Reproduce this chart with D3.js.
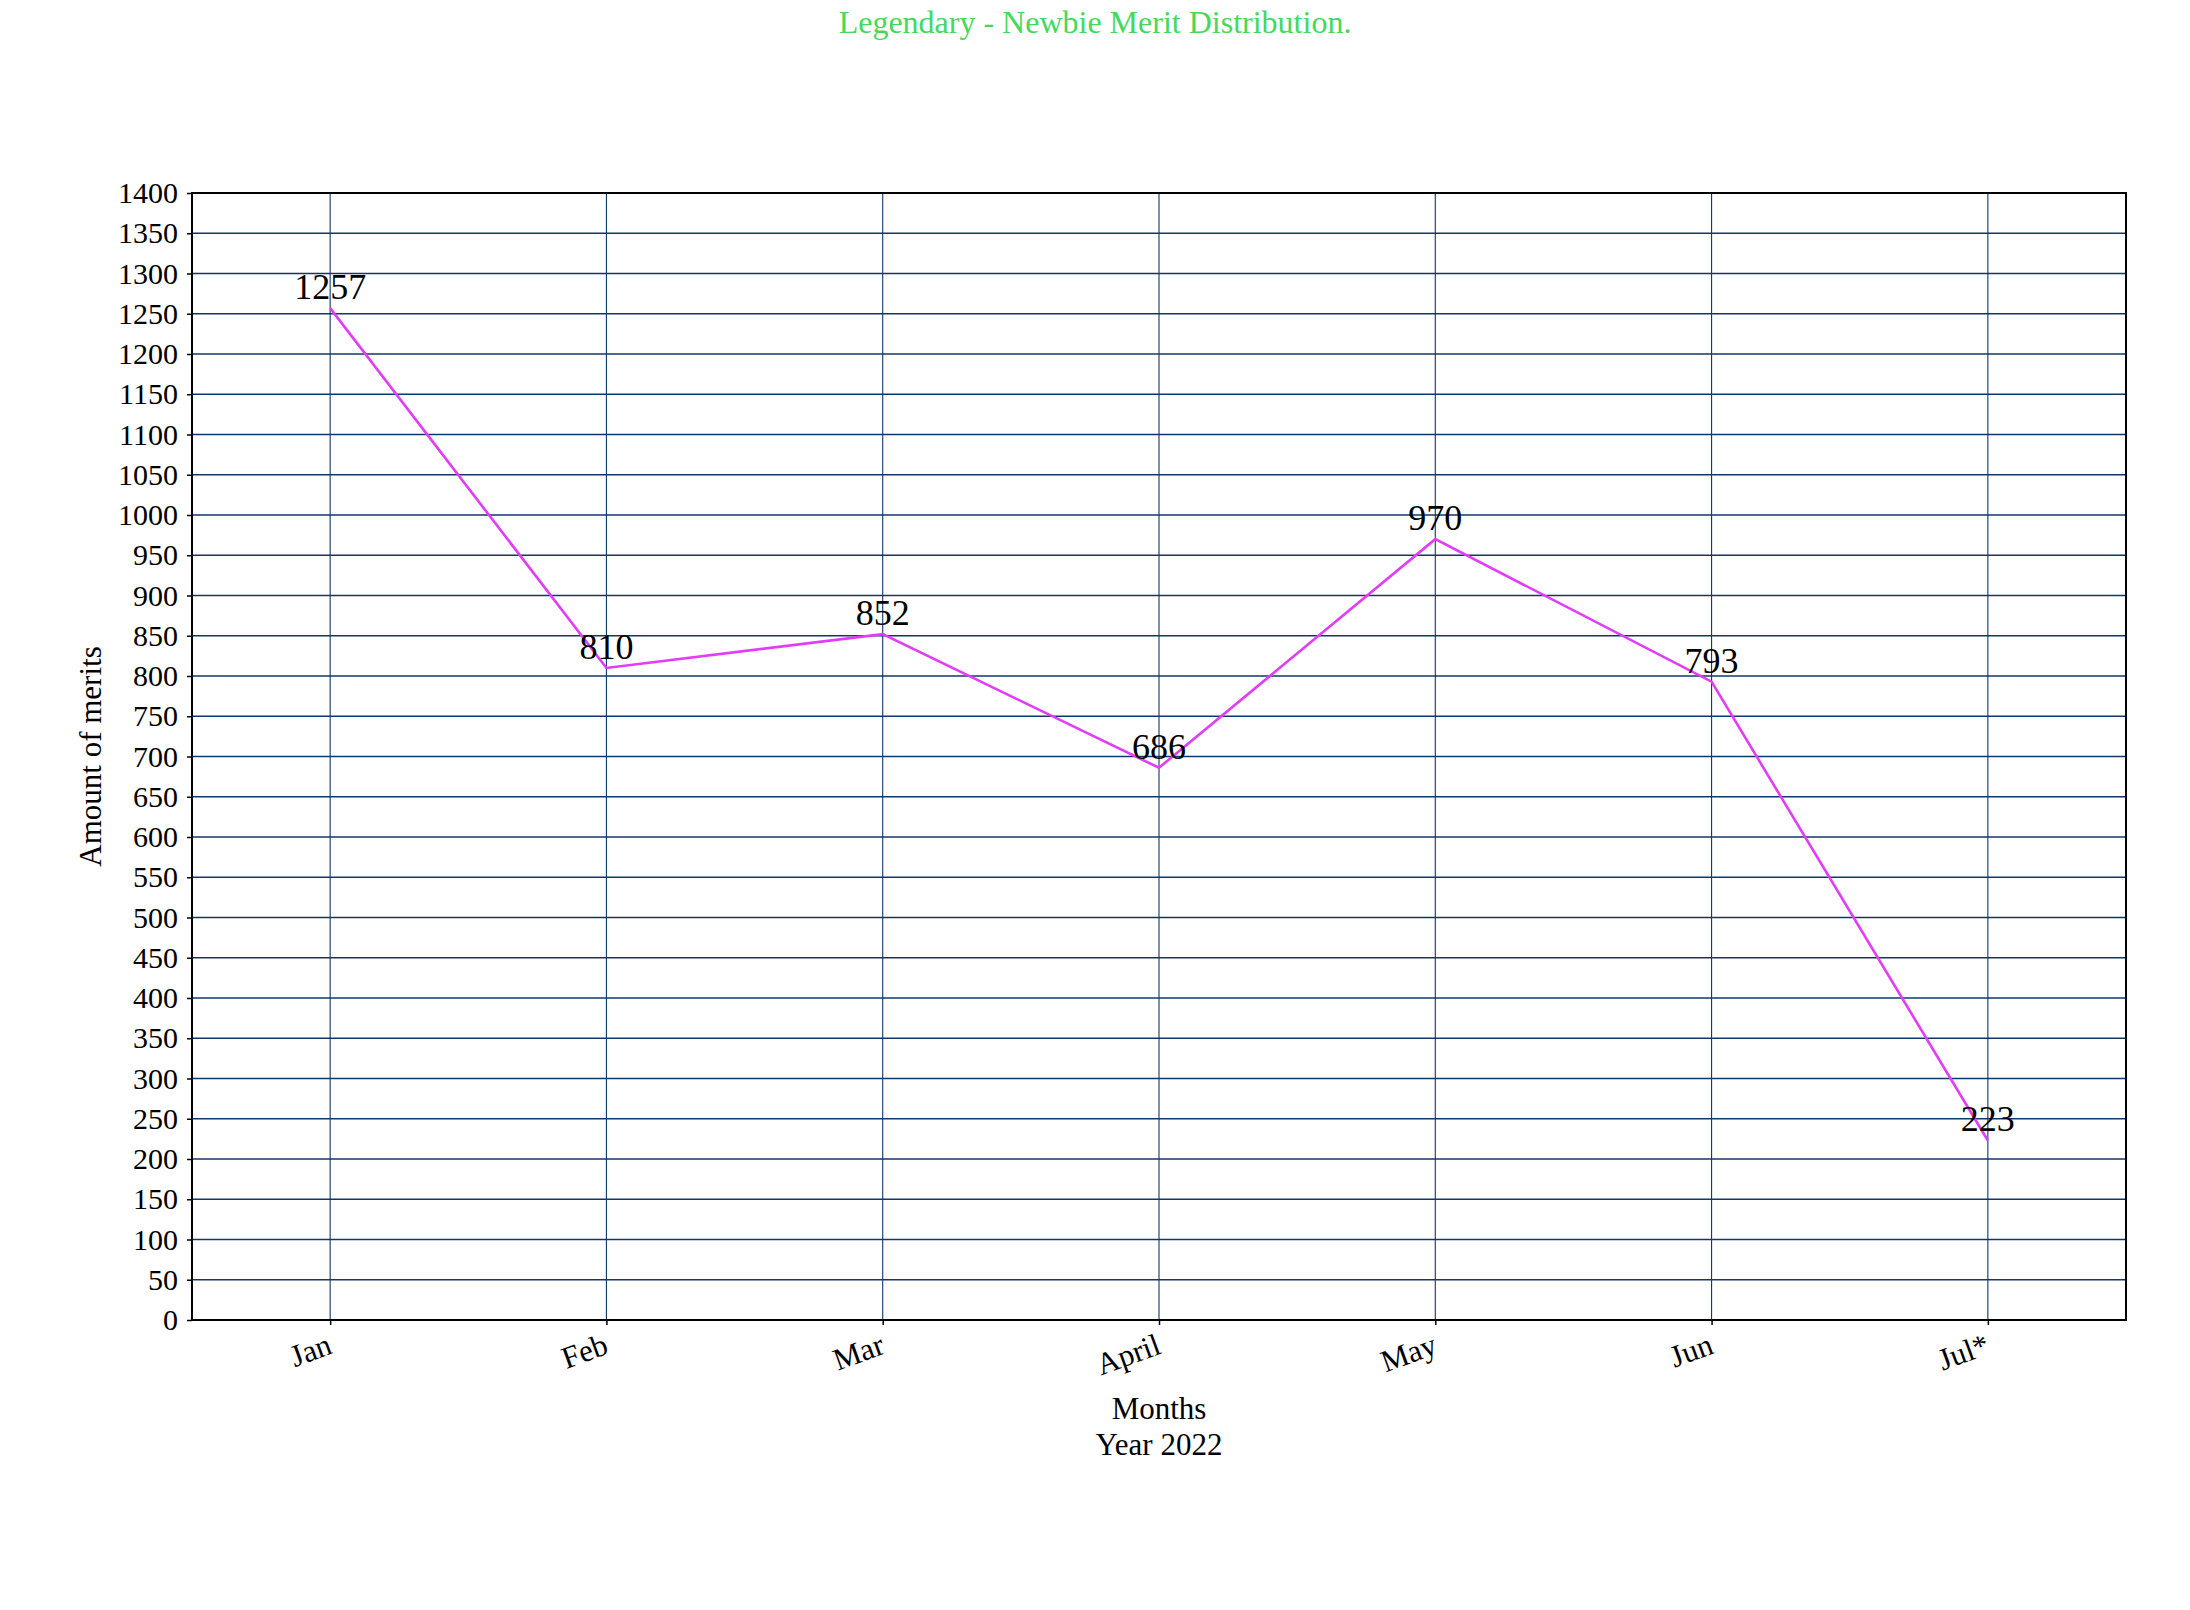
<!DOCTYPE html>
<html>
<head>
<meta charset="utf-8">
<script src="https://cdn.jsdelivr.net/npm/d3@7"></script>
<style>
  html, body { margin: 0; padding: 0; background: #fff; }
  svg { display: block; font-family: "Liberation Serif", "Times New Roman", serif; }
</style>
</head>
<body>
<svg id="chart" width="2190" height="1610"></svg>
<script>
const months = ["Jan", "Feb", "Mar", "April", "May", "Jun", "Jul*"];
const merits = [1257, 810, 852, 686, 970, 793, 223];
const yTicks = d3.range(0, 1401, 50);
const titleText = "Legendary - Newbie Merit Distribution.";
const xTitle = ["Months", "Year 2022"];
const yTitle = "Amount of merits";

const W = 2190, H = 1610;
const L = 192, R = 2126, T = 193, B = 1320;
const svg = d3.select("#chart");
svg.append("rect").attr("width", W).attr("height", H).attr("fill", "#fff");

const x = d3.scalePoint().domain(months).range([L, R]).padding(0.5);
const y = d3.scaleLinear().domain([0, 1400]).range([B, T]);
const gridColor = "#0f3868";

// horizontal grid
svg.append("g").selectAll("line").data(yTicks).join("line")
  .attr("x1", L).attr("x2", R)
  .attr("y1", d => y(d)).attr("y2", d => y(d))
  .attr("stroke", gridColor).attr("stroke-width", 1.6);

// vertical grid
svg.append("g").selectAll("line").data(months).join("line")
  .attr("x1", d => x(d)).attr("x2", d => x(d))
  .attr("y1", T).attr("y2", B)
  .attr("stroke", gridColor).attr("stroke-width", 1.1);

// y axis
const yAxis = svg.append("g").attr("transform", `translate(${L},0)`)
  .call(d3.axisLeft(y).tickValues(yTicks).tickSize(5).tickPadding(9).tickFormat(d3.format("d")));
yAxis.select(".domain").remove();
yAxis.selectAll(".tick line").attr("stroke", "#000").attr("stroke-width", 1.5);
yAxis.selectAll(".tick text").attr("font-size", 30).attr("fill", "#000")
  .attr("font-family", "Liberation Serif, serif");

// x axis
const xAxis = svg.append("g").attr("transform", `translate(0,${B})`)
  .call(d3.axisBottom(x).tickSize(5).tickPadding(0));
xAxis.select(".domain").remove();
xAxis.selectAll(".tick line").attr("stroke", "#000").attr("stroke-width", 1.5);
xAxis.selectAll(".tick text")
  .attr("font-size", 31).attr("fill", "#000")
  .attr("font-family", "Liberation Serif, serif")
  .attr("text-anchor", "end")
  .attr("dy", null)
  .attr("y", 0)
  .attr("transform", "translate(3,33) rotate(-20)");

// frame
svg.append("rect").attr("x", L).attr("y", T).attr("width", R - L).attr("height", B - T)
  .attr("fill", "none").attr("stroke", "#000").attr("stroke-width", 2);

// line
const line = d3.line().x((d, i) => x(months[i])).y(d => y(d));
svg.append("path").datum(merits)
  .attr("d", line).attr("fill", "none")
  .attr("stroke", "#e23cf8").attr("stroke-width", 2.6);

// data labels
svg.append("g").selectAll("text").data(merits).join("text")
  .attr("x", (d, i) => x(months[i]))
  .attr("y", d => y(d) - 9)
  .attr("text-anchor", "middle")
  .attr("font-size", 36).attr("fill", "#000")
  .text(d => d);

// title
svg.append("text").attr("x", W / 2).attr("y", 33)
  .attr("text-anchor", "middle").attr("font-size", 32)
  .attr("fill", "#45d95a").text(titleText);

// x title
svg.append("g").selectAll("text").data(xTitle).join("text")
  .attr("x", (L + R) / 2).attr("y", (d, i) => 1419 + i * 36)
  .attr("text-anchor", "middle").attr("font-size", 31).attr("fill", "#000")
  .text(d => d);

// y title
svg.append("text")
  .attr("transform", `translate(101,${(T + B) / 2}) rotate(-90)`)
  .attr("text-anchor", "middle").attr("font-size", 31).attr("fill", "#000")
  .text(yTitle);
</script>
</body>
</html>
